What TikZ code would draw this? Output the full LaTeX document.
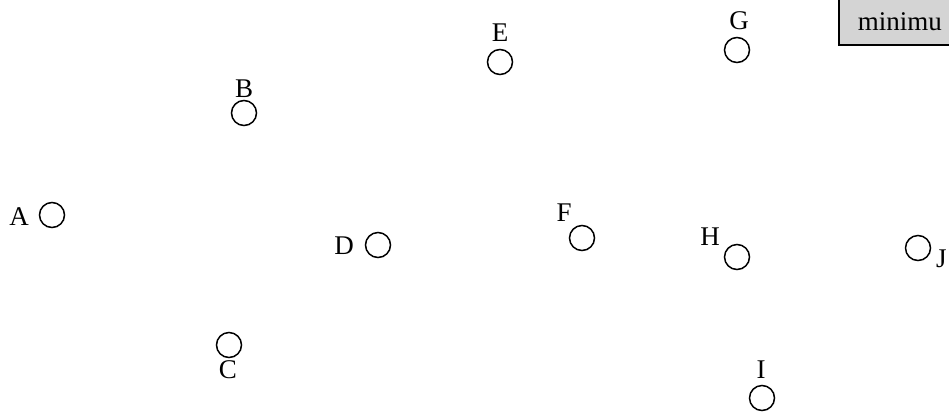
\documentclass[tikz,border=0pt]{standalone}
\usepackage{fontspec}
\setmainfont{Liberation Serif}
\begin{document}
\begin{tikzpicture}[x=1pt,y=-1pt,
  vtx/.style={circle,draw=black,line width=1.5pt,minimum size=25pt,inner sep=0pt},
  lbl/.style={font=\fontsize{27}{30}\selectfont,inner sep=0pt},
  legendbox/.style={draw=black,fill=black!17,line width=1.5pt,anchor=north west,minimum height=46pt,minimum width=140pt,inner sep=0pt,text width=140pt,font=\fontsize{27}{30}\selectfont}]
\useasboundingbox (0,0) rectangle (949,413);
\node[vtx] (A) at (52,215) {};
\node[vtx] (B) at (244,113) {};
\node[vtx] (C) at (229,345) {};
\node[vtx] (D) at (378,245) {};
\node[vtx] (E) at (500,62) {};
\node[vtx] (F) at (582,238) {};
\node[vtx] (G) at (737,50) {};
\node[vtx] (H) at (737,257) {};
\node[vtx] (I) at (762,398) {};
\node[vtx] (J) at (918,248) {};
\node[lbl] (lA) at (19,217) {A};
\node[lbl] (lB) at (244,89) {B};
\node[lbl] (lC) at (228,370) {C};
\node[lbl] (lD) at (344,246) {D};
\node[lbl] (lE) at (500,33) {E};
\node[lbl] (lF) at (564,213) {F};
\node[lbl] (lG) at (739,21) {G};
\node[lbl] (lH) at (710,237) {H};
\node[lbl] (lI) at (761,370) {I};
\node[lbl,anchor=west] (lJ) at (936,259) {J};
\node[legendbox] (leg) at (838,-2) {\hspace*{19pt}minimu};
\end{tikzpicture}
\end{document}
